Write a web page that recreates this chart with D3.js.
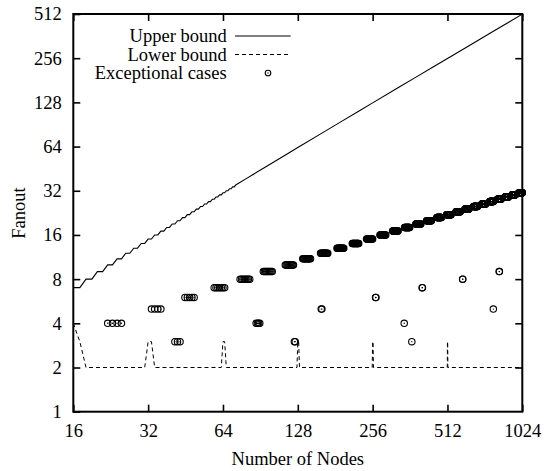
<!DOCTYPE html>
<html>
<head>
<meta charset="utf-8">
<script src="https://cdn.jsdelivr.net/npm/d3@7"></script>
<style>
  body { margin: 0; background: #fff; }
  text { font-family: "Liberation Serif", "Times New Roman", serif; font-size: 18.5px; fill: #000; }
</style>
</head>
<body>
<svg></svg>
<script>
const size = { w: 544, h: 471 };
const plot = { l: 73.3, r: 522.3, t: 14, b: 411.7 };

const xTicks = [16, 32, 64, 128, 256, 512, 1024];
const yTicks = [1, 2, 4, 8, 16, 32, 64, 128, 256, 512];

// upper bound (every node up to 72, coarser after)
const upperNodes = [16, 17, 18, 19, 20, 21, 22, 23, 24, 25, 26, 27, 28, 29, 30, 31, 32, 33, 34, 35,
  36, 37, 38, 39, 40, 41, 42, 43, 44, 45, 46, 47, 48, 49, 50, 51, 52, 53, 54, 55,
  56, 57, 58, 59, 60, 61, 62, 63, 64, 65, 66, 67, 68, 69, 70, 71, 72,
  80, 96, 112, 128, 160, 192, 224, 256, 320, 384, 448, 512, 640, 768, 896, 1024];
const upperFanout = [7, 7, 8, 8, 9, 9, 10, 10, 11, 11, 12, 12, 13, 13, 14, 14, 15, 15, 16, 16,
  17, 17, 18, 18, 19, 19, 20, 20, 21, 21, 22, 22, 23, 23, 24, 24, 25, 25, 26, 26,
  27, 27, 28, 28, 29, 29, 30, 30, 31, 31, 32, 32, 33, 33, 34, 34, 35,
  39, 47, 55, 63, 79, 95, 111, 127, 159, 191, 223, 255, 319, 383, 447, 511];

// lower bound: flat at 2 with spikes at powers of two
const lowerNodes = [16, 17, 18, 31, 32, 33, 34, 63, 64, 65, 66, 127, 128, 129, 130,
  255, 256, 257, 258, 511, 512, 513, 514, 1024];
const lowerFanout = [4, 3, 2, 2, 3, 3, 2, 2, 3, 3, 2, 2, 3, 3, 2,
  2, 3, 3, 2, 2, 3, 3, 2, 2];

// exceptional cases: runs of consecutive node counts sharing one fanout
const bandFanout = [4, 5, 6, 7, 8, 9, 10, 11, 12, 13, 14, 15, 16, 17,
  18, 19, 20, 21, 22, 23, 24, 25, 26, 27, 28, 29, 30, 31];
const bandFrom = [22, 33, 45, 59, 75, 93, 114, 134, 158, 184, 212, 242, 274, 308,
  344, 382, 422, 464, 508, 554, 602, 652, 704, 758, 814, 872, 932, 994];
const bandTo = [25, 36, 49, 65, 82, 101, 123, 144, 169, 196, 225, 256, 289, 324,
  361, 400, 441, 484, 529, 576, 625, 676, 729, 784, 841, 900, 961, 1024];

// scattered exceptional cases below the band
const outlierNodes = [41, 42, 43, 87, 88, 89, 90, 124, 125, 159, 160, 263, 264,
  343, 368, 405, 406, 589, 590, 783, 827, 828];
const outlierFanout = [3, 3, 3, 4, 4, 4, 4, 3, 3, 5, 5, 6, 6,
  4, 3, 7, 7, 8, 8, 5, 9, 9];

const legendLabels = ["Upper bound", "Lower bound", "Exceptional cases"];

const svg = d3.select("svg").attr("width", size.w).attr("height", size.h);

const x = d3.scaleLog().base(2).domain([16, 1024]).range([plot.l, plot.r]);
const y = d3.scaleLog().base(2).domain([1, 512]).range([plot.b, plot.t]);

// axes, ticks pointing inward on all four sides
function styleAxis(g) {
  g.select(".domain").remove();
  g.selectAll(".tick line").attr("stroke", "#000").attr("stroke-width", 1.6);
  g.selectAll(".tick text").attr("font-family", null).attr("font-size", null);
}

svg.append("g")
  .attr("transform", `translate(0,${plot.b})`)
  .call(d3.axisBottom(x).tickValues(xTicks).tickSize(-7).tickPadding(12).tickFormat(d3.format("d")))
  .call(styleAxis);
svg.append("g")
  .attr("transform", `translate(0,${plot.t})`)
  .call(d3.axisTop(x).tickValues(xTicks).tickSize(-7).tickFormat(""))
  .call(styleAxis);
svg.append("g")
  .attr("transform", `translate(${plot.l},0)`)
  .call(d3.axisLeft(y).tickValues(yTicks).tickSize(-7).tickPadding(11.6).tickFormat(d3.format("d")))
  .call(styleAxis);
svg.append("g")
  .attr("transform", `translate(${plot.r},0)`)
  .call(d3.axisRight(y).tickValues(yTicks.slice(1, -1)).tickSize(-7).tickFormat(""))
  .call(styleAxis);

svg.append("rect")
  .attr("x", plot.l).attr("y", plot.t)
  .attr("width", plot.r - plot.l).attr("height", plot.b - plot.t)
  .attr("fill", "none").attr("stroke", "#000").attr("stroke-width", 2);

// axis titles
svg.append("text")
  .attr("x", (plot.l + plot.r) / 2).attr("y", 465)
  .attr("text-anchor", "middle")
  .text("Number of Nodes");
svg.append("text")
  .attr("transform", "translate(25,213) rotate(-90)")
  .attr("text-anchor", "middle")
  .text("Fanout");

const line = d3.line().x(d => x(d[0])).y(d => y(d[1]));

const upper = upperNodes.map((n, i) => [n, upperFanout[i]]);
const lower = lowerNodes.map((n, i) => [n, lowerFanout[i]]);

svg.append("path").datum(upper)
  .attr("d", line).attr("fill", "none").attr("stroke", "#000").attr("stroke-width", 1.1);
svg.append("path").datum(lower)
  .attr("d", line).attr("fill", "none").attr("stroke", "#000").attr("stroke-width", 1)
  .attr("stroke-dasharray", "4,3");

let points = [];
bandFanout.forEach((f, i) => {
  d3.range(bandFrom[i], bandTo[i] + 1).forEach(n => points.push([n, f]));
});
outlierNodes.forEach((n, i) => points.push([n, outlierFanout[i]]));

function drawMark(g, cx, cy, r) {
  g.append("circle").attr("cx", cx).attr("cy", cy).attr("r", r)
    .attr("fill", "none").attr("stroke", "#000").attr("stroke-width", 1.1);
  g.append("circle").attr("cx", cx).attr("cy", cy).attr("r", 0.7).attr("fill", "#000");
}

let markG = svg.append("g").classed("marks", true);
points.forEach(d => drawMark(markG, x(d[0]), y(d[1]), 3.2));

// legend
const legendG = svg.append("g").classed("legend", true);
legendLabels.forEach((label, i) => {
  let rowY = 36 + i * 18.5;
  legendG.append("text")
    .attr("x", 226.7).attr("y", rowY + 6.3)
    .attr("text-anchor", "end")
    .text(label);
  if (i < 2) {
    legendG.append("line")
      .attr("x1", 235).attr("x2", 290.7).attr("y1", rowY).attr("y2", rowY)
      .attr("stroke", "#000").attr("stroke-width", 1)
      .attr("stroke-dasharray", i === 1 ? "4,3" : null);
  } else {
    drawMark(legendG, 268, rowY, 2.8);
  }
});
</script>
</body>
</html>
